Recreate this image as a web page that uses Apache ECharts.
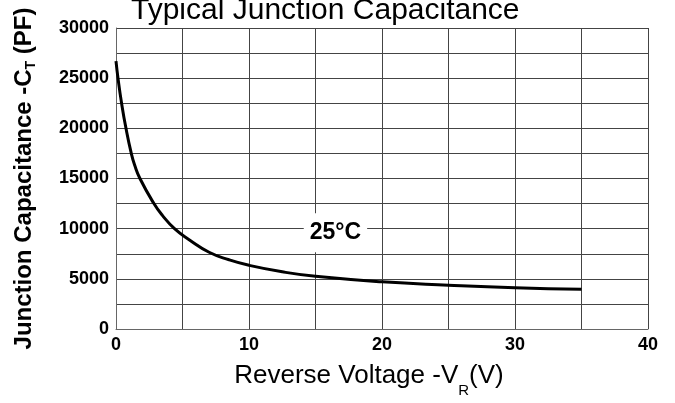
<!DOCTYPE html>
<html>
<head>
<meta charset="utf-8">
<script src="https://cdn.jsdelivr.net/npm/echarts@6/dist/echarts.min.js"></script>
<style>
  html, body { margin: 0; padding: 0; background: #fff; }
  #chart { width: 675px; height: 403px; }
</style>
</head>
<body>
<div id="chart"></div>
<script>
// 25°C 结电容曲线（读图估值）
var voltage = [0, 0.15, 0.42, 0.75, 1.15, 1.4, 1.8, 2.85, 3.5, 4.4, 5.5, 7, 8.5, 10, 12.5, 15, 20, 25, 30, 35];
var capacitance = [26700, 25000, 22500, 20000, 17500, 16350, 15000, 12500, 11300, 10000, 8900, 7650, 6900, 6350, 5700, 5250, 4700, 4370, 4110, 3950];
var xTicks = [0, 10, 20, 30, 40];
var yTicks = [0, 5000, 10000, 15000, 20000, 25000, 30000];
var tempLabel = '25°C';
var tempPos = [16.5, 9600];

var font = 'Arial, "Liberation Sans", sans-serif';

var points = voltage.map(function (v, i) { return [v, capacitance[i]]; });

var chart = echarts.init(document.getElementById('chart'));
var option = {
    animation: false,
    backgroundColor: '#fff',
    title: {
        text: 'Typical Junction Capacitance',
        left: 126,
        top: -9,
        textStyle: { fontFamily: font, fontSize: 30, fontWeight: 'normal', color: '#000' }
    },
    grid: { left: 116, right: 27, top: 28, bottom: 65 },
    xAxis: {
        type: 'value',
        min: 0,
        max: 40,
        interval: 5,
        name: 'Reverse Voltage -V{sub|R}(V)',
        nameLocation: 'middle',
        nameGap: 24,
        nameTextStyle: {
            fontFamily: font, fontSize: 26, color: '#000',
            padding: [0, 26, 0, 0],
            rich: { sub: { fontFamily: font, fontSize: 15, color: '#000', padding: [30, 0, 0, 0] } }
        },
        axisLine: { show: true, lineStyle: { color: '#666', width: 1 } },
        axisTick: { show: false },
        axisLabel: {
            margin: 7,
            fontFamily: font, fontSize: 18, fontWeight: 'bold', color: '#000',
            formatter: function (v) { return xTicks.indexOf(v) >= 0 ? String(v) : ''; }
        },
        splitLine: { show: true, lineStyle: { color: '#444', width: 1 } }
    },
    yAxis: {
        type: 'value',
        min: 0,
        max: 30000,
        interval: 2500,
        name: 'Junction Capacitance -C{sub|T} (PF)',
        nameLocation: 'middle',
        nameGap: 78,
        nameTextStyle: {
            fontFamily: font, fontSize: 24, fontWeight: 'bold', color: '#000',
            rich: { sub: { fontFamily: font, fontSize: 14, fontWeight: 'bold', color: '#000', padding: [14, 0, 0, 0] } }
        },
        axisLine: { show: true, lineStyle: { color: '#666', width: 1 } },
        axisTick: { show: false },
        axisLabel: {
            margin: 7,
            fontFamily: font, fontSize: 18, fontWeight: 'bold', color: '#000',
            formatter: function (v) { return yTicks.indexOf(v) >= 0 ? String(v) : ''; }
        },
        splitLine: { show: true, lineStyle: { color: '#444', width: 1 } }
    },
    series: [
        {
            name: 'Ct',
            type: 'line',
            data: points,
            smooth: 0.5,
            showSymbol: false,
            lineStyle: { color: '#000', width: 3 },
            markPoint: {
                symbol: 'rect',
                symbolSize: 0,
                silent: true,
                label: {
                    show: true,
                    position: 'inside',
                    formatter: tempLabel,
                    fontFamily: font, fontSize: 23, fontWeight: 'bold', color: '#000',
                    backgroundColor: '#fff',
                    padding: [8, 6]
                },
                data: [{ coord: tempPos }]
            }
        }
    ]
};
chart.setOption(option);
</script>
</body>
</html>
